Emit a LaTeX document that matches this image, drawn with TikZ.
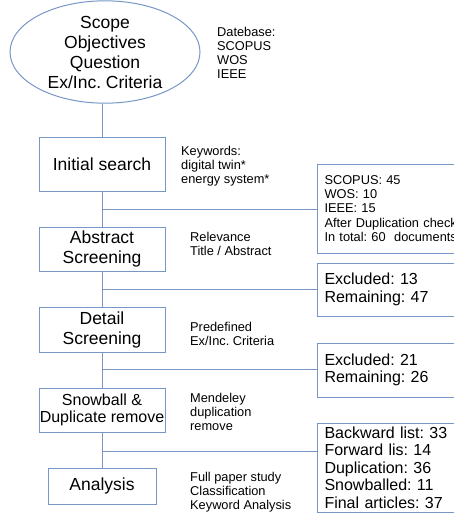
\documentclass[tikz,border=0pt]{standalone}
\usepackage{fontspec}
\setmainfont{Liberation Sans}
\usepackage{tikz}
\usetikzlibrary{shapes.geometric}
\definecolor{flowline}{RGB}{120,150,198}
\frenchspacing
\tikzset {
	goal/.style={ellipse, draw=flowline, line width=1pt, inner sep=0pt, align=center,
					minimum width=190pt, minimum height=98pt, font=\fontsize{17.5}{20}\selectfont},
	phase/.style={rectangle, draw=flowline, line width=1pt, inner sep=0pt, align=center,
					minimum width=126pt, font=\fontsize{17.5}{20}\selectfont},
	note/.style={anchor=west, inner sep=0pt, align=left, font=\fontsize{12.8}{14}\selectfont},
	tally/.style={rectangle, draw=flowline, line width=1pt, anchor=west, inner sep=7pt,
					text width=139pt, align=left, font=\fontsize{16}{17.5}\selectfont},
	link/.style={draw=flowline, line width=1pt}
}
\begin{document}
\begin{tikzpicture}[x=1pt, y=-1pt]
	\useasboundingbox (0,0) rectangle (454,516);
	\clip (0,0) rectangle (454,516);
	% main flow
	\node [goal] (scope) at (105,52) {Scope\\Objectives\\Question\\Ex/Inc. Criteria};
	\node [phase, minimum height=54pt] (init) at (102,164) {Initial search};
	\node [phase, minimum height=44pt] (abstract) at (102,249) {Abstract\\Screening};
	\node [phase, minimum height=45pt] (detail) at (102,329.5) {Detail\\Screening};
	\node [phase, minimum height=44pt, font=\fontsize{16}{17.5}\selectfont] (snow) at (102,410) {Snowball \&\\Duplicate remove};
	\node [phase, minimum width=108pt, minimum height=36pt] (analysis) at (102,486) {Analysis};
	% notes beside the steps
	\node [note] (db) at (217,53) {Datebase:\\SCOPUS\\WOS\\IEEE};
	\node [note] (kw) at (181,166) {Keywords:\\digital twin*\\energy system*};
	\node [note] (rel) at (190,244) {Relevance\\Title / Abstract};
	\node [note] (pre) at (190,333.5) {Predefined\\Ex/Inc. Criteria};
	\node [note] (mend) at (190,412) {Mendeley\\duplication\\remove};
	\node [note] (full) at (190,492.5) {Full paper study\\Classification\\Keyword Analysis};
	% counts
	\node [tally, minimum height=89pt, font=\fontsize{12.8}{14.2}\selectfont] (count) at (317,208.5) {SCOPUS: 45\\WOS: 10\\IEEE: 15\\After Duplication check\\In total: 60~ documents};
	\node [tally, minimum height=53pt] (excl1) at (317,289.5) {Excluded: 13\\Remaining: 47};
	\node [tally, minimum height=54pt] (excl2) at (317,370) {Excluded: 21\\Remaining: 26};
	\node [tally, minimum height=89pt, inner ysep=2pt] (final) at (317,467.5) {Backward list: 33\\Forward lis: 14\\Duplication: 36\\Snowballed: 11\\Final articles: 37};
	% connectors
	\coordinate (j1) at (102,209);
	\coordinate (j2) at (102,289);
	\coordinate (j3) at (102,369);
	\coordinate (j4) at (102,451);
	\draw [link] (init.north |- scope.south) -- (init.north);
	\draw [link] (init.south) -- (abstract.north);
	\draw [link] (abstract.south) -- (detail.north);
	\draw [link] (detail.south) -- (snow.north);
	\draw [link] (snow.south) -- (analysis.north);
	\draw [link] (j1) -- (j1 -| count.west);
	\draw [link] (j2) -- (j2 -| excl1.west);
	\draw [link] (j3) -- (j3 -| excl2.west);
	\draw [link] (j4) -- (j4 -| final.west);
\end{tikzpicture}
\end{document}
